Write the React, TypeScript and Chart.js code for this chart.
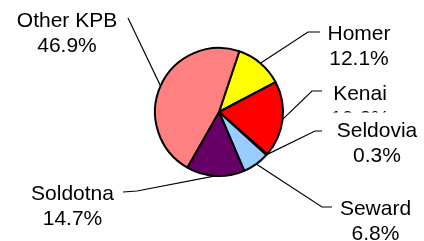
import React, { useEffect, useRef } from "react";
import { Chart, registerables } from "chart.js";

Chart.register(...registerables);

const CATEGORIES = ["Homer", "Kenai", "Seldovia", "Seward", "Soldotna", "Other KPB"];
const SHARES = [12.1, 19.2, 0.3, 6.8, 14.7, 46.9];
const COLORS = ["#FFFF00", "#FF0000", "#0066CC", "#99CCFF", "#660066", "#FF8080"];

// Label layout: elbow point(s) of the leader line and label text position (center x, first baseline y)
const LABEL_LAYOUT = [
  { path: [[308, 32], [320, 32]], x: 359, y: 39.5, box: false },
  { path: [[312, 91], [322, 91]], x: 360, y: 100, box: false },
  { path: [[315, 131], [322, 131]], x: 377, y: 137, box: true },
  { path: [[322, 207], [332, 207]], x: 375.5, y: 215, box: false },
  { path: [[137, 191], [123, 192]], x: 72.5, y: 200, box: false },
  { path: [[128, 18]], x: 67, y: 27, box: false },
];
const LINE_PITCH = 25;
const FONT = '21px "Liberation Sans", Arial, sans-serif';

const labelPlugin = {
  id: "pieLabels",
  afterDatasetsDraw(chart: any) {
    const ctx = chart.ctx;
    const meta = chart.getDatasetMeta(0);
    ctx.save();
    meta.data.forEach((el: any, i: number) => {
      const { x, y, startAngle, endAngle, outerRadius } = el.getProps(
        ["x", "y", "startAngle", "endAngle", "outerRadius"],
        true
      );
      const mid = (startAngle + endAngle) / 2;
      const ax = x + Math.cos(mid) * outerRadius;
      const ay = y + Math.sin(mid) * outerRadius;
      const lay = LABEL_LAYOUT[i];
      ctx.strokeStyle = "#000";
      ctx.lineWidth = 1.2;
      ctx.beginPath();
      ctx.moveTo(ax, ay);
      lay.path.forEach((p) => ctx.lineTo(p[0], p[1]));
      ctx.stroke();
      const lines = [CATEGORIES[i], SHARES[i].toFixed(1) + "%"];
      ctx.font = FONT;
      if (lay.box) {
        ctx.fillStyle = "#fff";
        ctx.fillRect(328, lay.y - 24.5, 96, 2 * LINE_PITCH + 8);
      }
      ctx.fillStyle = "#000";
      ctx.textAlign = "center";
      ctx.textBaseline = "alphabetic";
      lines.forEach((t, k) => ctx.fillText(t, lay.x, lay.y + k * LINE_PITCH));
    });
    ctx.restore();
  },
};

export default function App() {
  const ref = useRef<HTMLCanvasElement | null>(null);
  useEffect(() => {
    document.body.style.margin = "0";
    const chart = new Chart(ref.current as HTMLCanvasElement, {
      type: "pie",
      data: {
        labels: CATEGORIES,
        datasets: [
          {
            data: SHARES,
            backgroundColor: COLORS,
            borderColor: "#000",
            borderWidth: 2,
          },
        ],
      },
      options: {
        animation: false,
        responsive: true,
        maintainAspectRatio: false,
        rotation: 18.5,
        radius: 64,
        layout: { padding: { left: 150, right: 136, top: 43, bottom: 60 } },
        plugins: { legend: { display: false }, tooltip: { enabled: false } },
      },
      plugins: [labelPlugin],
    });
    return () => chart.destroy();
  }, []);
  return (
    <div style={{ width: 424, height: 241, position: "relative", background: "#fff" }}>
      <canvas ref={ref} />
    </div>
  );
}
